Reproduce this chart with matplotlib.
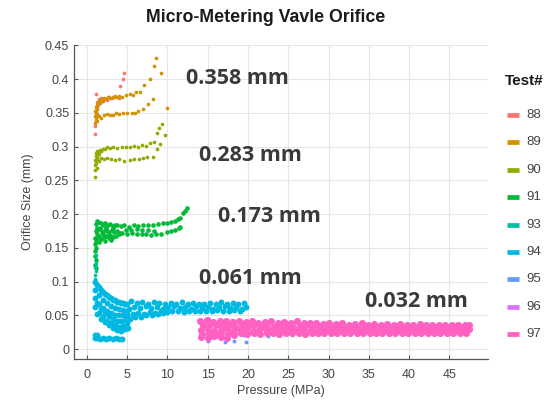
import matplotlib
matplotlib.use("Agg")
import matplotlib.pyplot as plt
from matplotlib.lines import Line2D

# ---------------- data ----------------
tests = ["88", "89", "90", "91", "93", "94", "95", "96", "97"]
colors = ["#F8766D", "#D39200", "#93AA00", "#00BA38", "#00C19F",
          "#00B9E3", "#619CFF", "#DB72FB", "#FF61C3"]

x88 = [1.0, 1.05, 1.1, 1.15, 1.2, 1.3, 1.4, 1.5, 1.6, 1.8,
       2.0, 2.2, 2.5, 2.8, 3.1, 3.5, 4.0, 4.1, 4.5, 4.6,
       1.1, 1.3]
y88 = [0.318, 0.330, 0.342, 0.352, 0.360, 0.366, 0.362, 0.370, 0.364, 0.372,
       0.368, 0.371, 0.369, 0.373, 0.372, 0.375, 0.372, 0.390, 0.400, 0.409,
       0.378, 0.348]

x89 = [1.0, 1.0, 1.05, 1.1, 1.1, 1.15, 1.2, 1.2, 1.3, 1.4,
       1.5, 1.6, 1.7, 1.9, 2.1, 2.3, 2.6, 2.9, 3.2, 3.6,
       4.0, 4.4, 4.8, 5.3, 5.7, 6.1, 6.6, 7.1, 7.8, 8.3,
       8.6, 1.5, 1.8, 2.1, 2.5, 2.9, 3.2, 3.6, 4.0, 4.5,
       5.0, 5.6, 6.0, 6.4, 7.0, 7.6, 8.2, 9.2, 9.9, 1.3]
y89 = [0.335, 0.345, 0.352, 0.340, 0.358, 0.350, 0.362, 0.345, 0.356, 0.365,
       0.368, 0.366, 0.370, 0.368, 0.372, 0.370, 0.373, 0.372, 0.374, 0.373,
       0.375, 0.374, 0.376, 0.378, 0.377, 0.381, 0.381, 0.391, 0.400, 0.419,
       0.431, 0.345, 0.342, 0.346, 0.348, 0.347, 0.347, 0.349, 0.348, 0.350,
       0.349, 0.350, 0.349, 0.352, 0.355, 0.363, 0.370, 0.409, 0.357, 0.338]

x90 = [1.0, 1.0, 1.05, 1.05, 1.1, 1.1, 1.15, 1.2, 1.25, 1.3,
       1.4, 1.5, 1.6, 1.8, 2.0, 2.2, 2.5, 2.9, 3.3, 3.8,
       4.3, 4.8, 5.3, 5.8, 6.3, 6.8, 7.3, 7.8, 8.3, 8.7,
       9.0, 9.3, 1.5, 1.8, 2.1, 2.5, 3.0, 3.5, 4.0, 4.6,
       5.3, 5.9, 6.5, 7.0, 7.5, 8.2, 8.7, 9.1, 9.7, 1.2]
y90 = [0.255, 0.265, 0.272, 0.280, 0.286, 0.275, 0.290, 0.282, 0.293, 0.285,
       0.292, 0.289, 0.295, 0.294, 0.297, 0.296, 0.300, 0.298, 0.299, 0.298,
       0.300, 0.299, 0.300, 0.301, 0.300, 0.302, 0.301, 0.305, 0.307, 0.320,
       0.327, 0.333, 0.279, 0.283, 0.281, 0.283, 0.282, 0.280, 0.281, 0.279,
       0.280, 0.281, 0.282, 0.283, 0.284, 0.285, 0.296, 0.304, 0.317, 0.268]

x91 = [1.1, 1.0, 1.1, 1.05, 1.0, 1.1, 1.05, 1.15, 1.0, 1.2, 1.1, 1.25, 1.15, 1.2,
       1.4, 1.7, 2.0, 2.3, 2.6, 2.9, 3.2, 3.5, 3.8, 4.2,
       1.3, 1.6, 1.9, 2.2, 2.5, 2.8, 3.1, 3.4, 3.7, 4.1,
       1.3, 1.5, 1.8, 2.1, 2.4, 2.7, 3.0, 3.3, 3.6, 4.0,
       4.6, 5.2, 5.8, 6.4, 7.0, 7.6, 8.2, 8.8, 9.4, 9.9, 10.4, 10.9, 11.3, 11.6, 11.9, 12.2, 12.4,
       4.4, 5.0, 5.6, 6.2, 6.8, 7.4, 8.0, 8.6, 9.2, 9.9, 10.5, 11.0, 11.4, 11.6,
       4.8, 5.5, 6.2, 6.9, 7.6, 8.3,
       1.6, 2.0, 2.4, 2.8, 3.3, 1.5, 2.2, 3.0]
y91 = [0.120, 0.125, 0.132, 0.138, 0.145, 0.150, 0.155, 0.160, 0.165, 0.170, 0.175, 0.180, 0.185, 0.190,
       0.188, 0.186, 0.184, 0.186, 0.183, 0.185, 0.182, 0.184, 0.183, 0.182,
       0.176, 0.178, 0.174, 0.177, 0.175, 0.173, 0.176, 0.174, 0.175, 0.172,
       0.165, 0.168, 0.163, 0.166, 0.168, 0.164, 0.167, 0.166, 0.168, 0.170,
       0.183, 0.181, 0.183, 0.182, 0.183, 0.184, 0.183, 0.185, 0.186, 0.187, 0.188, 0.190, 0.193, 0.194, 0.201, 0.205, 0.209,
       0.172, 0.171, 0.172, 0.170, 0.171, 0.170, 0.169, 0.170, 0.171, 0.173, 0.175, 0.177, 0.179, 0.181,
       0.177, 0.176, 0.178, 0.176, 0.177, 0.175,
       0.180, 0.170, 0.179, 0.169, 0.179, 0.158, 0.160, 0.161]

x93 = [1.0, 1.05, 1.1, 1.0, 1.15, 1.1]
y93 = [0.104, 0.110, 0.116, 0.122, 0.128, 0.140]

x94 = [1.0, 1.5, 2.0, 2.5, 3.0, 3.5, 4.0, 4.5, 5.0,
       1.0, 1.5, 2.0, 2.5, 3.0, 3.5, 4.0, 4.5, 5.0,
       1.0, 1.5, 2.0, 2.5, 3.0, 3.5, 4.0, 4.5, 5.0,
       1.0, 1.5, 2.0, 2.5, 3.0, 3.5, 4.0, 4.5, 5.0,
       1.2, 1.7, 2.2, 2.7, 3.2, 3.7, 4.2, 4.7, 5.1,
       5.5, 6.2, 6.9, 7.6, 8.3, 9.0, 9.7, 10.4, 11.1, 11.8, 12.5, 13.2, 13.9, 14.6, 15.3, 16.0, 16.7, 17.4, 18.1, 18.8, 19.5,
       5.2, 5.9, 6.6, 7.3, 8.0, 8.7, 9.4, 10.1, 10.8, 11.5, 12.2, 12.9, 13.6, 14.3, 15.0, 15.7, 16.4, 17.1, 17.8, 18.5, 19.2, 19.7,
       5.0, 5.7, 6.4, 7.1, 7.8, 8.5, 9.2, 9.9, 10.6, 11.3, 12.0, 12.7, 13.4, 14.1, 14.8, 15.5, 16.2, 16.9, 17.6, 18.3, 19.0,
       5.3, 6.0, 6.7, 7.4, 8.1, 8.8, 9.5,
       1.25, 1.75, 2.25, 2.75, 3.25, 3.75, 4.25, 4.75,
       1.25, 1.75, 2.25, 2.75, 3.25, 3.75, 4.25, 4.75,
       1.0, 1.3, 1.6, 2.0, 2.4, 2.8, 3.2, 3.6, 4.0, 4.4, 1.0, 1.3]
y94 = [0.100, 0.092, 0.085, 0.080, 0.076, 0.073, 0.070, 0.068, 0.066,
       0.088, 0.080, 0.073, 0.068, 0.064, 0.061, 0.059, 0.058, 0.057,
       0.075, 0.067, 0.061, 0.056, 0.053, 0.051, 0.050, 0.050, 0.051,
       0.062, 0.054, 0.047, 0.042, 0.038, 0.035, 0.033, 0.034, 0.038,
       0.052, 0.045, 0.040, 0.035, 0.031, 0.028, 0.027, 0.029, 0.031,
       0.071, 0.068, 0.070, 0.067, 0.069, 0.068, 0.066, 0.068, 0.067, 0.069, 0.066, 0.068, 0.067, 0.066, 0.068, 0.067, 0.069, 0.066, 0.068, 0.067, 0.068,
       0.060, 0.062, 0.061, 0.063, 0.061, 0.062, 0.060, 0.062, 0.063, 0.061, 0.062, 0.060, 0.063, 0.061, 0.062, 0.060, 0.062, 0.063, 0.061, 0.062, 0.060, 0.062,
       0.050, 0.052, 0.053, 0.052, 0.055, 0.054, 0.056, 0.055, 0.056, 0.057, 0.055, 0.056, 0.057, 0.056, 0.057, 0.056, 0.058, 0.057, 0.056, 0.058, 0.057,
       0.045, 0.047, 0.048, 0.050, 0.051, 0.052, 0.053,
       0.095, 0.087, 0.081, 0.077, 0.073, 0.070, 0.068, 0.067,
       0.068, 0.060, 0.054, 0.049, 0.045, 0.042, 0.041, 0.043,
       0.016, 0.016, 0.015, 0.016, 0.015, 0.016, 0.015, 0.016, 0.015, 0.015, 0.021, 0.021]

x95 = [14.5, 15.5, 16.5, 17.5, 18.5, 19.5, 20.5, 21.5, 22.5, 23.5, 24.5, 25.5, 26.5, 27.3,
       15.0, 17.2, 18.3, 19.8]
y95 = [0.022, 0.021, 0.023, 0.020, 0.022, 0.021, 0.023, 0.022, 0.020, 0.022, 0.023, 0.021, 0.022, 0.023,
       0.012, 0.010, 0.012, 0.011]

x96 = [14.3, 15.2, 16.4, 18.0, 19.5, 14.2]
y96 = [0.042, 0.044, 0.041, 0.043, 0.040, 0.016]

x97 = [14.1, 14.9, 15.7, 16.5, 17.3, 18.1, 18.9, 19.7, 20.5, 21.3,
       22.1, 22.9, 23.7, 24.5, 25.3, 26.1, 26.9, 27.7, 28.5, 29.3,
       30.1, 30.9, 31.7, 32.5, 33.3, 34.1, 34.9, 35.7, 36.5, 37.3,
       38.1, 38.9, 39.7, 40.5, 41.3, 42.1, 42.9, 43.7, 44.5, 45.3,
       46.1, 46.9, 47.4,
       14.4, 15.2, 16.0, 16.8, 17.6, 18.4, 19.2, 20.0, 20.8, 21.6,
       22.4, 23.2, 24.0, 24.8, 25.6, 26.4, 27.2, 28.0, 28.8, 29.6,
       30.4, 31.2, 32.0, 32.8, 33.6, 34.4, 35.2, 36.0, 36.8, 37.6,
       38.4, 39.2, 40.0, 40.8, 41.6, 42.4, 43.2, 44.0, 44.8, 45.6,
       46.4, 47.2,
       14.2, 15.0, 15.8, 16.6, 17.4, 18.2, 19.0, 19.8, 20.6, 21.4,
       22.2, 23.0, 23.8, 24.6, 25.4, 26.2, 27.0, 27.8, 28.6, 29.4,
       30.2, 31.0, 31.8, 32.6, 33.4, 34.2, 35.0, 35.8, 36.6, 37.4,
       38.2, 39.0, 39.8, 40.6, 41.4, 42.2, 43.0, 43.8, 44.6, 45.4,
       46.2, 47.0, 47.5,
       14.3, 15.1, 15.9, 16.7, 17.5, 18.3, 19.1, 19.9, 20.7, 21.5,
       22.3, 23.1, 23.9, 24.7, 25.5, 26.3, 27.1, 27.9, 28.7, 29.5,
       30.3, 31.1, 31.9, 32.7, 33.5, 34.3, 35.1, 35.9, 36.7, 37.5,
       38.3, 39.1, 39.9, 40.7, 41.5, 42.3, 43.1, 43.9, 44.7, 45.5,
       46.3, 47.1,
       14.2, 15.0, 15.8, 16.6, 17.4]
y97 = [0.041, 0.043, 0.040, 0.042, 0.041, 0.040, 0.042, 0.040, 0.041, 0.039,
       0.040, 0.041, 0.039, 0.040, 0.038, 0.041, 0.039, 0.038, 0.038, 0.037,
       0.038, 0.037, 0.038, 0.036, 0.037, 0.038, 0.036, 0.037, 0.036, 0.037,
       0.036, 0.037, 0.036, 0.035, 0.037, 0.036, 0.035, 0.036, 0.035, 0.036,
       0.035, 0.036, 0.035,
       0.035, 0.034, 0.036, 0.034, 0.035, 0.033, 0.035, 0.034, 0.036, 0.034,
       0.035, 0.033, 0.034, 0.035, 0.033, 0.034, 0.035, 0.033, 0.033, 0.032,
       0.033, 0.032, 0.033, 0.032, 0.031, 0.033, 0.032, 0.033, 0.031, 0.032,
       0.032, 0.031, 0.032, 0.031, 0.032, 0.031, 0.032, 0.031, 0.032, 0.031,
       0.032, 0.031,
       0.028, 0.029, 0.027, 0.028, 0.029, 0.027, 0.028, 0.029, 0.027, 0.028,
       0.029, 0.028, 0.027, 0.028, 0.029, 0.027, 0.028, 0.028, 0.027, 0.028,
       0.027, 0.028, 0.027, 0.028, 0.027, 0.028, 0.027, 0.028, 0.027, 0.028,
       0.027, 0.028, 0.027, 0.028, 0.027, 0.028, 0.027, 0.028, 0.027, 0.028,
       0.027, 0.028, 0.029,
       0.022, 0.023, 0.021, 0.023, 0.022, 0.021, 0.023, 0.022, 0.024, 0.022,
       0.023, 0.024, 0.022, 0.023, 0.024, 0.023, 0.022, 0.024, 0.023, 0.024,
       0.023, 0.024, 0.023, 0.024, 0.024, 0.023, 0.024, 0.024, 0.023, 0.024,
       0.024, 0.023, 0.024, 0.024, 0.023, 0.024, 0.024, 0.023, 0.024, 0.024,
       0.023, 0.024,
       0.018, 0.017, 0.019, 0.018, 0.017]

series_x = [x88, x89, x90, x91, x93, x94, x95, x96, x97]
series_y = [y88, y89, y90, y91, y93, y94, y95, y96, y97]
marker_sizes = [7, 7, 7, 11, 7, 18, 8, 7, 26]

annot_text = ["0.358 mm", "0.283 mm", "0.173 mm", "0.061 mm", "0.032 mm"]
annot_x = [12.3, 13.9, 16.3, 13.9, 34.5]
annot_y = [0.401, 0.287, 0.197, 0.104, 0.071]

x_ticks = [0, 5, 10, 15, 20, 25, 30, 35, 40, 45]
y_ticks = [0, 0.05, 0.1, 0.15, 0.2, 0.25, 0.3, 0.35, 0.4, 0.45]
y_ticklabels = ["0", "0.05", "0.1", "0.15", "0.2", "0.25", "0.3", "0.35", "0.4", "0.45"]

# ---------------- figure ----------------
plt.rcParams['font.family'] = ['Liberation Sans', 'DejaVu Sans']
W, H = 552, 401
fig = plt.figure(figsize=(W / 100, H / 100), dpi=100)
ax = fig.add_axes([74 / W, 1 - 359 / H, (488 - 74) / W, (359 - 45) / H])

for xs, ys, c, s in zip(series_x, series_y, colors, marker_sizes):
    ax.scatter(xs, ys, s=s, color=c, linewidths=0, zorder=3)

ax.set_xlim(-1.6, 49.8)
ax.set_ylim(-0.0148, 0.4504)
ax.set_xticks(x_ticks)
ax.set_yticks(y_ticks)
ax.set_yticklabels(y_ticklabels)
ax.grid(True, color="#e6e6e6", linewidth=0.8, zorder=0)
ax.set_axisbelow(True)
for side in ("top", "right"):
    ax.spines[side].set_visible(False)
for side in ("left", "bottom"):
    ax.spines[side].set_color("#555555")
    ax.spines[side].set_linewidth(0.9)
ax.tick_params(direction="in", length=3, width=0.8, colors="#555555",
               labelsize=9, labelcolor="#444444")
ax.tick_params(axis="x", pad=7)

ax.set_xlabel("Pressure (MPa)", fontsize=9, color="#444444", labelpad=3)
ax.set_ylabel("Orifice Size (mm)", fontsize=9, color="#444444", labelpad=8)

fig.text(266 / W, 1 - 18 / H, "Micro-Metering Vavle Orifice", ha="center",
         va="center", fontsize=12.8, fontweight="bold", color="#1a1a1a")

for t, xa, ya in zip(annot_text, annot_x, annot_y):
    ax.text(xa, ya, t, ha="left", va="center", fontsize=15.5,
            fontweight="bold", color="#3a3a3a", family=["Open Sans", "DejaVu Sans"],
            zorder=5)

# legend drawn manually
fig.text(505 / W, 1 - 81 / H, "Test#", ha="left", va="center",
         fontsize=11, fontweight="bold", color="#1a1a1a")
for i, (lab, col) in enumerate(zip(tests, colors)):
    yy = 1 - (115 + 27.4 * i) / H
    fig.add_artist(Line2D([507 / W, 519 / W], [yy, yy], color=col, lw=3.4,
                          solid_capstyle="butt"))
    fig.text(526 / W, yy, lab, ha="left", va="center", fontsize=9.5,
             color="#444444")

fig.savefig("out.png", dpi=100)
